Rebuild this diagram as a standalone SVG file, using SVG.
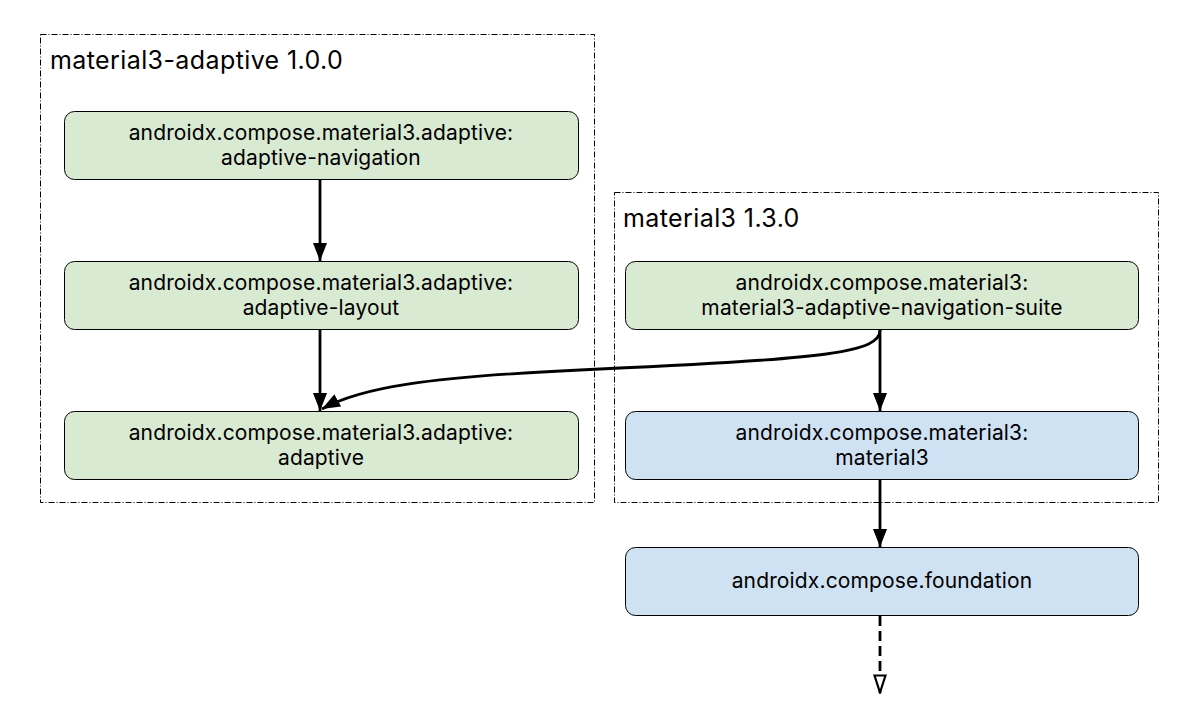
<svg xmlns="http://www.w3.org/2000/svg" width="1196" height="722" viewBox="0 0 1196 722">
<defs>
<style>
.grp{fill:none;stroke:#000;stroke-width:1;stroke-dasharray:6 2 1 2}
.title{font-family:Inter,"Open Sans","Liberation Sans",sans-serif;font-size:25px;letter-spacing:0.4px;fill:#000}
.box{stroke:#000;stroke-width:1}
.g{fill:#d9ead3}
.b{fill:#cfe2f3}
.lbl{font-family:Inter,"Open Sans","Liberation Sans",sans-serif;font-size:21px;letter-spacing:0.15px;fill:#000;text-anchor:middle}
.edge{fill:none;stroke:#000;stroke-width:2.8}
</style>
<marker id="ah" markerWidth="18" markerHeight="14" viewBox="0 0 18 14" refX="18" refY="7" orient="auto" markerUnits="userSpaceOnUse">
<path d="M0,0 L18,7 L0,14 z" fill="#000"/>
</marker>
<marker id="ao" markerWidth="20" markerHeight="14" viewBox="0 0 20 14" refX="19" refY="7" orient="auto" markerUnits="userSpaceOnUse">
<path d="M1.5,1.5 L18.5,7 L1.5,12.5 z" fill="#fff" stroke="#000" stroke-width="2.2"/>
</marker>
</defs>
<rect width="1196" height="722" fill="#fff"/>
<g id="group-adaptive">
<rect class="grp" x="40.5" y="34.5" width="554" height="468"/>
<text class="title" x="50" y="69">material3-adaptive 1.0.0</text>
</g>
<g id="group-material3">
<rect class="grp" x="614.5" y="192.5" width="544" height="310"/>
<text class="title" x="623" y="227">material3 1.3.0</text>
</g>
<g id="connectors">
<path class="edge" d="M320,180 V261" marker-end="url(#ah)"/>
<path class="edge" d="M320,330 V411" marker-end="url(#ah)"/>
<path class="edge" d="M880,330 C880,352 830,359 600,369 C420,377 360,388 322,409" marker-end="url(#ah)"/>
<path class="edge" d="M880,330 V411" marker-end="url(#ah)"/>
<path class="edge" d="M880,480 V547" marker-end="url(#ah)"/>
<path class="edge" d="M880,616 V693" stroke-dasharray="10 5" marker-end="url(#ao)"/>
</g>
<g id="node-adaptive-navigation">
<rect class="box g" x="64.5" y="111.5" width="514" height="68" rx="10"/>
<text class="lbl" x="321" y="140">androidx.compose.material3.adaptive:</text>
<text class="lbl" x="321" y="165">adaptive-navigation</text>
</g>
<g id="node-adaptive-layout">
<rect class="box g" x="64.5" y="261.5" width="514" height="68" rx="10"/>
<text class="lbl" x="321" y="290">androidx.compose.material3.adaptive:</text>
<text class="lbl" x="321" y="315">adaptive-layout</text>
</g>
<g id="node-adaptive">
<rect class="box g" x="64.5" y="411.5" width="514" height="68" rx="10"/>
<text class="lbl" x="321" y="440">androidx.compose.material3.adaptive:</text>
<text class="lbl" x="321" y="465">adaptive</text>
</g>
<g id="node-navigation-suite">
<rect class="box g" x="625.5" y="261.5" width="513" height="68" rx="10"/>
<text class="lbl" x="882" y="290">androidx.compose.material3:</text>
<text class="lbl" x="882" y="315">material3-adaptive-navigation-suite</text>
</g>
<g id="node-material3">
<rect class="box b" x="625.5" y="411.5" width="513" height="68" rx="10"/>
<text class="lbl" x="882" y="440">androidx.compose.material3:</text>
<text class="lbl" x="882" y="465">material3</text>
</g>
<g id="node-foundation">
<rect class="box b" x="625.5" y="547.5" width="513" height="68" rx="10"/>
<text class="lbl" x="882" y="588">androidx.compose.foundation</text>
</g>
</svg>
